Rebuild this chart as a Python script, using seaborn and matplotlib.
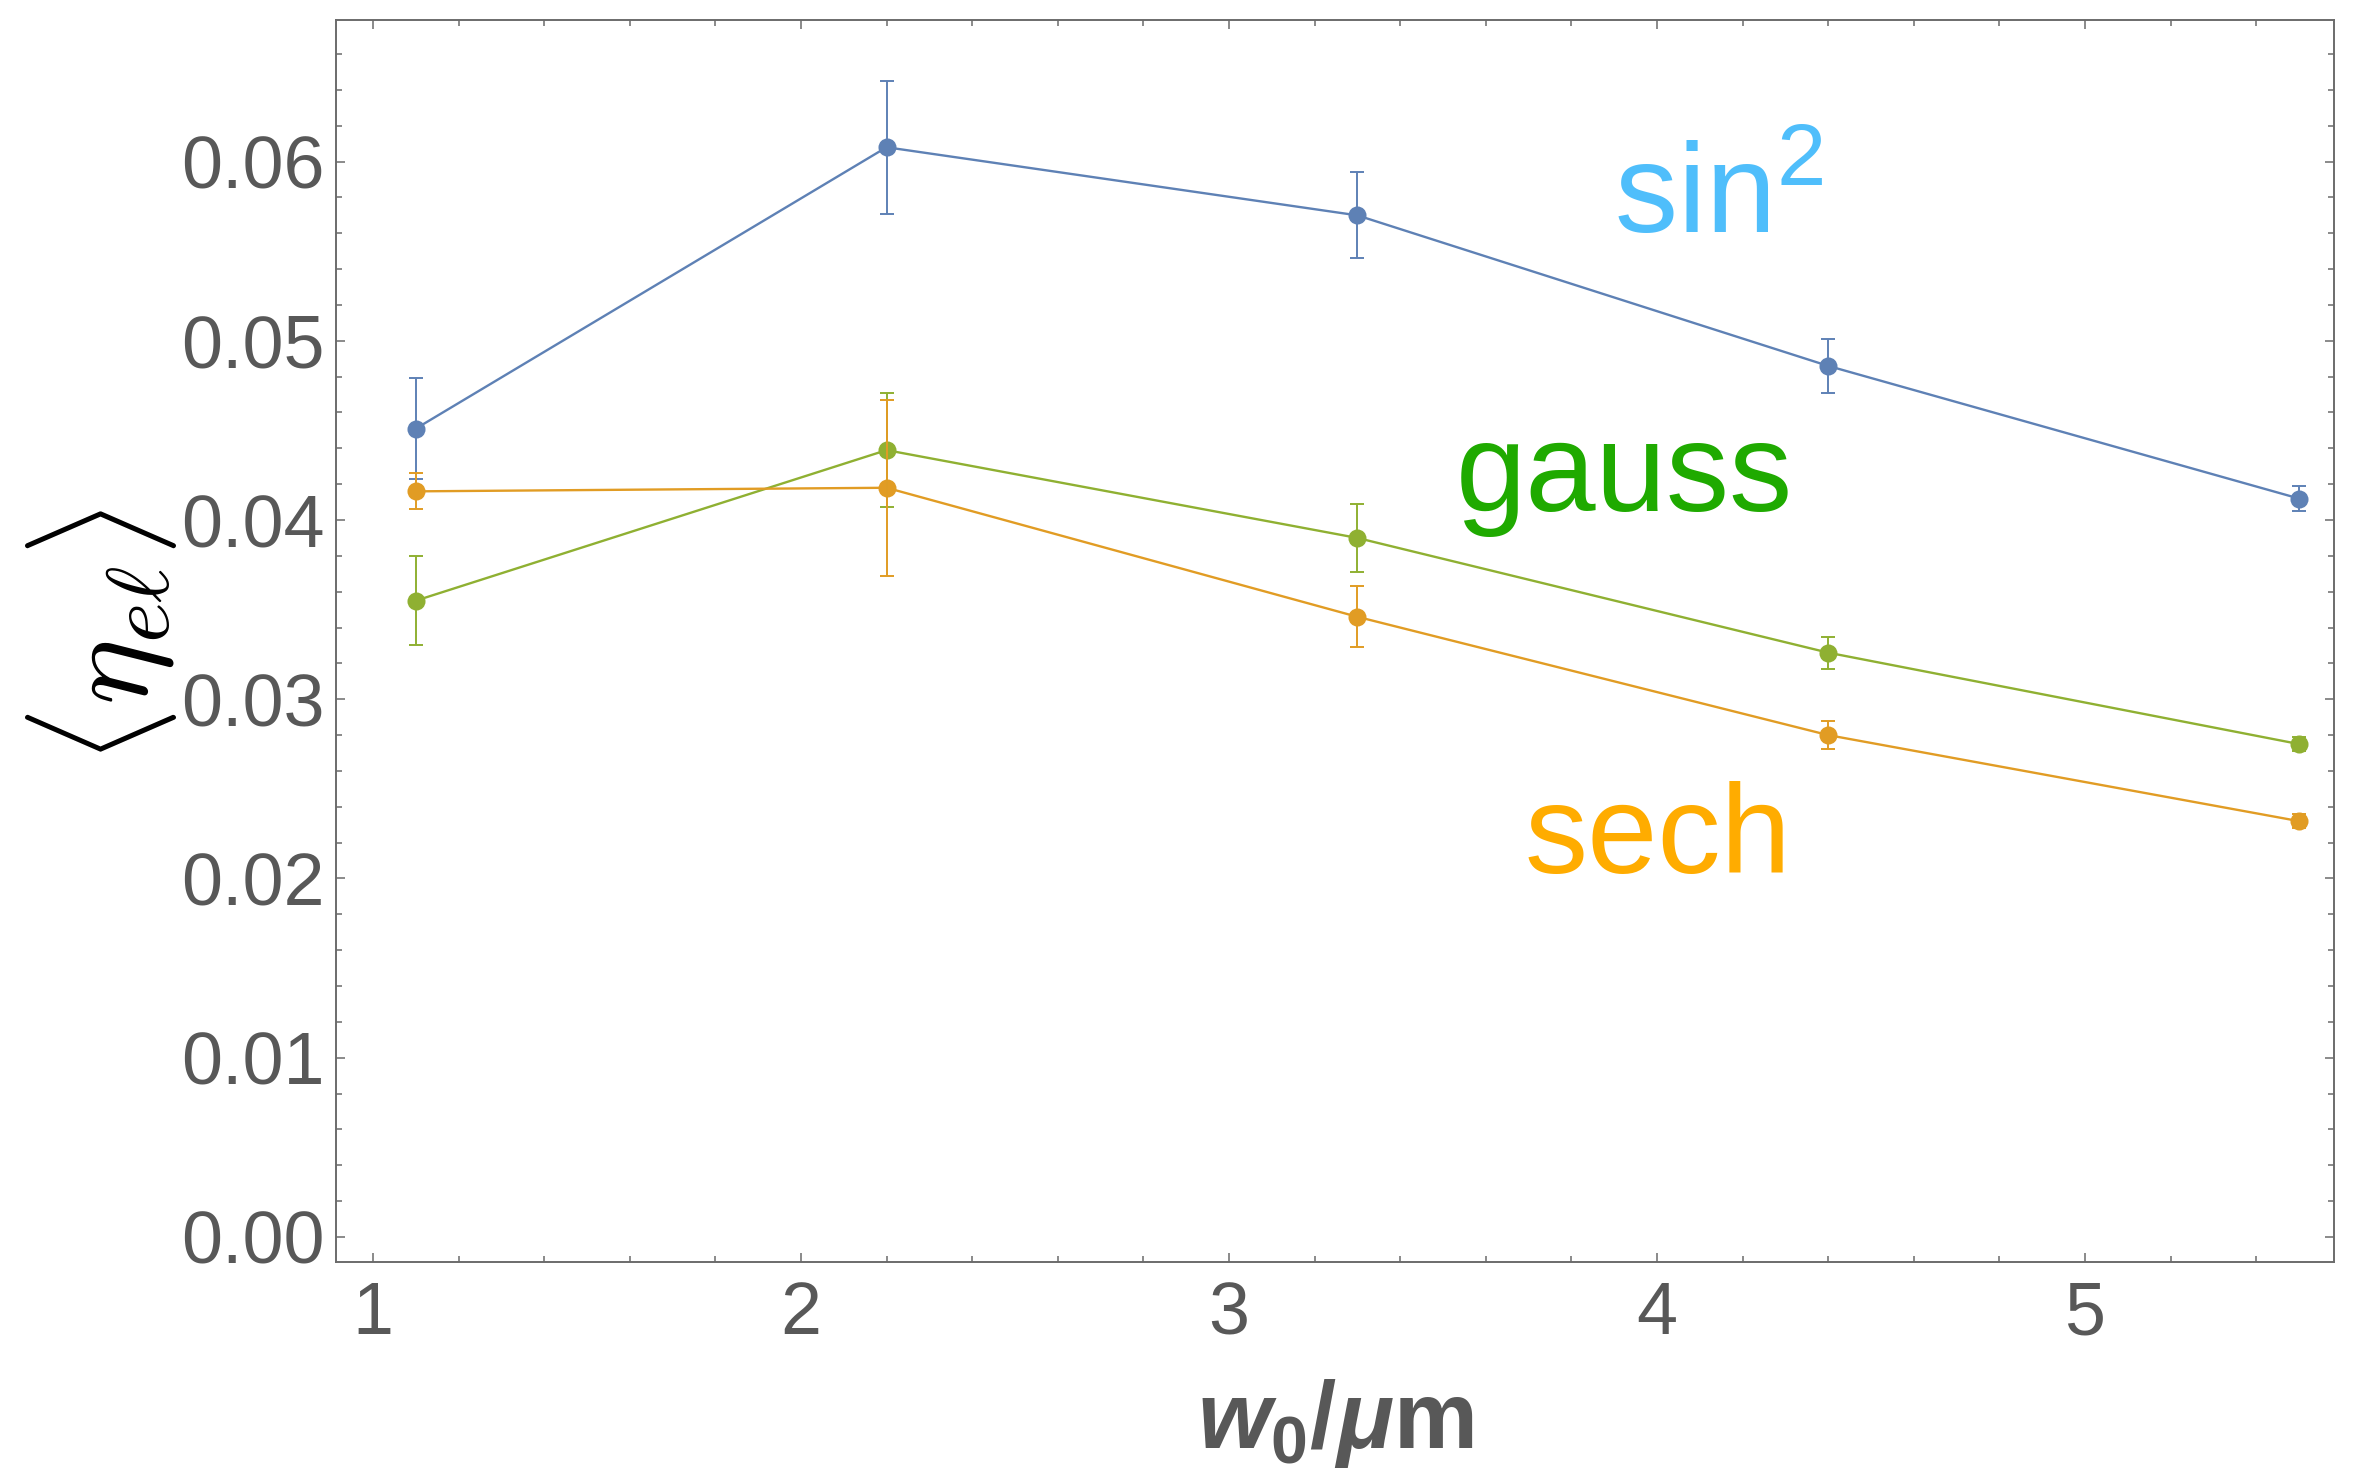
import numpy as np
import pandas as pd
import matplotlib
matplotlib.use("Agg")
import matplotlib.pyplot as plt
from matplotlib.ticker import MultipleLocator, FormatStrFormatter
import seaborn as sns

# Beam waist values (micrometres)
w0 = [1.1, 2.2, 3.3, 4.4, 5.5]

# Mean efficiency and its uncertainty for each pulse envelope
sin2_mean = [0.0451, 0.0608, 0.0570, 0.0486, 0.0412]
sin2_err = [0.0028, 0.0037, 0.0024, 0.0015, 0.0007]

gauss_mean = [0.0355, 0.0439, 0.0390, 0.0326, 0.0275]
gauss_err = [0.0025, 0.0032, 0.0019, 0.0009, 0.0004]

sech_mean = [0.0416, 0.0418, 0.0346, 0.0280, 0.0232]
sech_err = [0.0010, 0.0049, 0.0017, 0.0008, 0.0004]

profiles = ["sin2", "gauss", "sech"]
line_colors = {"sin2": "#5E81B5", "gauss": "#8FB032", "sech": "#E19C24"}
text_colors = {"sin2": "#4FBEFB", "gauss": "#1FAA00", "sech": "#FFAC00"}
labels = {"sin2": r"$\mathregular{sin^2}$", "gauss": "gauss", "sech": "sech"}
label_pos = {"sin2": (3.90, 0.0560), "gauss": (3.53, 0.0405), "sech": (3.69, 0.0203)}

means = {"sin2": sin2_mean, "gauss": gauss_mean, "sech": sech_mean}
errs = {"sin2": sin2_err, "gauss": gauss_err, "sech": sech_err}

df = pd.concat(
    [pd.DataFrame({"w0": w0, "eta": means[p], "err": errs[p], "profile": p}) for p in profiles],
    ignore_index=True,
)

sns.set_theme(style="ticks")
plt.rcParams["font.family"] = ["Liberation Sans", "DejaVu Sans"]
plt.rcParams["mathtext.fontset"] = "custom"
plt.rcParams["mathtext.rm"] = "Liberation Sans:bold"
plt.rcParams["mathtext.it"] = "Liberation Sans:italic:bold"
plt.rcParams["mathtext.bf"] = "Liberation Sans:bold"

frame_color = "#6b6b6b"
label_color = "#585858"

fig = plt.figure(figsize=(23.55, 14.74), dpi=100)
ax = fig.add_axes([0.14268, 0.14383, 0.8484, 0.8426])

sns.lineplot(
    data=df, x="w0", y="eta", hue="profile", hue_order=profiles,
    palette=line_colors, marker="o", markersize=13, markeredgewidth=0,
    linewidth=1.7, legend=False, ax=ax, sort=False,
)

for p in profiles:
    sub = df[df["profile"] == p]
    ax.errorbar(
        sub["w0"], sub["eta"], yerr=sub["err"], fmt="none",
        ecolor=line_colors[p], elinewidth=1.4, capsize=4.7, capthick=1.4,
    )
    x, y = label_pos[p]
    ax.text(x, y, labels[p], color=text_colors[p], fontsize=91,
            ha="left", va="baseline")

ax.set_xlim(0.9136, 5.582)
ax.set_ylim(-0.0014, 0.0679)

ax.xaxis.set_major_locator(MultipleLocator(1))
ax.xaxis.set_minor_locator(MultipleLocator(0.2))
ax.yaxis.set_major_locator(MultipleLocator(0.01))
ax.yaxis.set_minor_locator(MultipleLocator(0.002))
ax.yaxis.set_major_formatter(FormatStrFormatter("%.2f"))
ax.xaxis.set_major_formatter(FormatStrFormatter("%d"))

for side in ["left", "right", "top", "bottom"]:
    ax.spines[side].set_visible(True)
    ax.spines[side].set_color(frame_color)
    ax.spines[side].set_linewidth(1.4)

ax.tick_params(which="both", direction="in", top=True, right=True,
               color=frame_color, width=1.1, labelcolor=label_color)
ax.tick_params(which="major", length=6.5)
ax.tick_params(which="minor", length=4)
ax.tick_params(axis="y", which="major", labelsize=53, pad=8)
ax.tick_params(axis="x", which="major", labelsize=53, pad=13)

ax.set_xlabel(r"$w_0/\mu$m", fontsize=68, fontweight="bold", color=label_color)
ax.xaxis.label.set_verticalalignment("baseline")
ax.xaxis.set_label_coords(0.5, -0.150)
ax.set_ylabel("")

fig.text(102 / 2355, 1 - 637 / 1474, r"$\langle \eta_{e\ell} \rangle$",
         rotation=90, ha="center", va="center", fontsize=90,
         math_fontfamily="cm", color="black")

fig.savefig("out.png", dpi=100, facecolor="white")
